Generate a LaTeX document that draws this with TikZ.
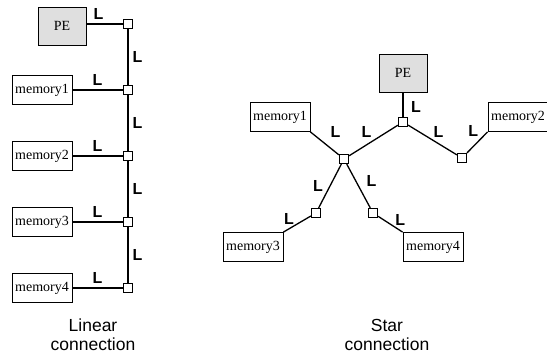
\documentclass[tikz,border=0pt]{standalone}
\usepackage{fontspec}
\setmainfont{Liberation Serif}
\newfontfamily\etiquetafont{Liberation Sans}

\begin{document}
\begin{tikzpicture}[x=1pt,y=-1pt]
  % Definir estilos
  \tikzset{
    caja/.style={draw, line width=0.8pt, minimum width=60pt, minimum height=29pt, inner sep=0pt, font=\fontsize{14}{14}\selectfont},
    caja_pe/.style={caja, fill=gray!25, minimum width=48pt, minimum height=38pt},
    conmutador/.style={draw, line width=0.8pt, fill=white, minimum size=9.5pt, inner sep=0pt},
    enlace/.style={line width=1.3pt},
    etiqueta/.style={font=\etiquetafont\bfseries\fontsize{16}{16}\selectfont, inner sep=0pt},
    titulo/.style={font=\etiquetafont\fontsize{17.5}{19}\selectfont, align=center, inner sep=0pt}
  }
  \useasboundingbox (0,0) rectangle (547,355);

  % Conexion lineal - cajas
  \node[caja_pe] (pe_a) at (62,26) {PE};
  \node[caja] (mem_a1) at (42,90) {memory1};
  \node[caja] (mem_a2) at (42,156) {memory2};
  \node[caja] (mem_a3) at (42,222) {memory3};
  \node[caja] (mem_a4) at (42,288) {memory4};

  % Conexion lineal - conmutadores
  \node[conmutador] (sw_a0) at (128,24) {};
  \foreach \i/\y in {1/90,2/156,3/222,4/288}
    \node[conmutador] (sw_a\i) at (128,\y) {};

  % Conexion lineal - enlaces
  \draw[enlace] (pe_a.east |- sw_a0) -- (sw_a0) node[midway, etiqueta, above=4pt, xshift=-6pt] {L};
  \foreach \i in {1,...,4}
    \draw[enlace] (mem_a\i) -- (sw_a\i) node[midway, etiqueta, above=4pt] {L};
  \foreach \i/\j in {0/1,1/2,2/3,3/4}
    \draw[enlace] (sw_a\i) -- (sw_a\j) node[midway, etiqueta, right=4pt] {L};

  % Conexion en estrella - cajas
  \node[caja_pe] (pe_b) at (403,73) {PE};
  \node[caja] (mem_b1) at (280,117) {memory1};
  \node[caja] (mem_b2) at (518,117) {memory2};
  \node[caja] (mem_b3) at (253,247) {memory3};
  \node[caja] (mem_b4) at (433,247) {memory4};

  % Conexion en estrella - conmutadores
  \node[conmutador] (sw_top) at (403,122) {};
  \node[conmutador] (sw_cen) at (344,159) {};
  \node[conmutador] (sw_der) at (462,158) {};
  \node[conmutador] (sw_izq) at (316,213) {};
  \node[conmutador] (sw_baj) at (373,213) {};

  % Conexion en estrella - enlaces
  \draw[enlace] (pe_b) -- (sw_top) node[midway, etiqueta, xshift=13pt, yshift=-2pt] {L};
  \draw[enlace] (mem_b1.south east) -- (sw_cen) node[midway, etiqueta, xshift=11pt, yshift=11pt] {L};
  \draw[enlace] (sw_cen) -- (sw_top) node[midway, etiqueta, xshift=-7pt, yshift=8pt] {L};
  \draw[enlace] (sw_top) -- (sw_der) node[midway, etiqueta, xshift=6pt, yshift=8pt] {L};
  \draw[enlace] (sw_der) -- (mem_b2.south west) node[midway, etiqueta, xshift=-4pt, yshift=11pt] {L};
  \draw[enlace] (sw_cen) -- (sw_izq) node[midway, etiqueta, xshift=-12pt, yshift=0pt] {L};
  \draw[enlace] (sw_cen) -- (sw_baj) node[midway, etiqueta, xshift=13pt, yshift=5pt] {L};
  \draw[enlace] (sw_izq) -- (mem_b3.north east) node[midway, etiqueta, xshift=-8pt, yshift=5pt] {L};
  \draw[enlace] (sw_baj) -- (mem_b4.north west) node[midway, etiqueta, xshift=10pt, yshift=4pt] {L};

  % Titulos
  \node[titulo] (tit_a) at (93,335) {Linear\\connection};
  \node[titulo] (tit_b) at (387,335) {Star\\connection};
\end{tikzpicture}
\end{document}
